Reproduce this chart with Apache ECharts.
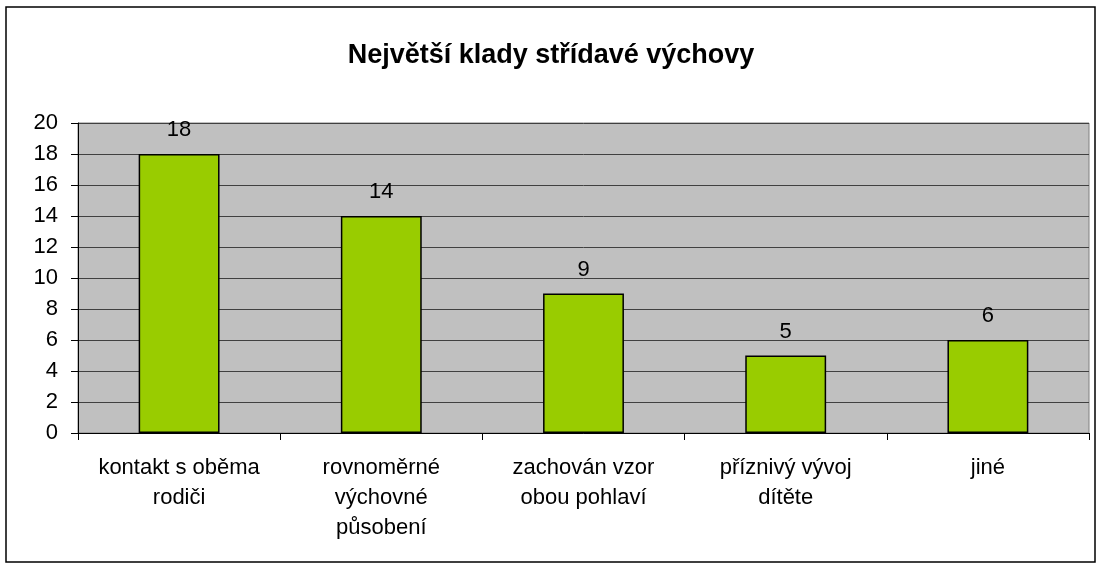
<!DOCTYPE html>
<html>
<head>
<meta charset="utf-8">
<script src="https://cdn.jsdelivr.net/npm/echarts@6/dist/echarts.min.js"></script>
<style>
  html, body { margin: 0; padding: 0; background: #fff; }
  #chart { width: 1102px; height: 569px; }
</style>
</head>
<body>
<div id="chart"></div>
<script>
const categories = [
  'kontakt s oběma\nrodiči',
  'rovnoměrné\nvýchovné\npůsobení',
  'zachován vzor\nobou pohlaví',
  'příznivý vývoj\ndítěte',
  'jiné'
]
const values = [18, 14, 9, 5, 6]
const yTicks = { min: 0, max: 20, interval: 2 }

const font = '"Liberation Sans", Arial, sans-serif'
const chart = echarts.init(document.getElementById('chart'))
chart.setOption({
  animation: false,
  title: {
    text: 'Největší klady střídavé výchovy',
    left: 'center',
    top: 37,
    textStyle: { fontFamily: font, fontSize: 27, fontWeight: 'bold', color: '#000' }
  },
  graphic: [{
    type: 'rect',
    shape: { x: 6, y: 7, width: 1089, height: 555 },
    style: { fill: 'none', stroke: '#000', lineWidth: 1.5 },
    silent: true
  }],
  grid: {
    left: 78,
    right: 13,
    top: 123,
    bottom: 136,
    show: true,
    backgroundColor: '#C0C0C0',
    borderColor: '#808080',
    borderWidth: 1
  },
  xAxis: {
    type: 'category',
    data: categories,
    axisLine: { lineStyle: { color: '#000', width: 1 } },
    axisTick: { show: true, length: 7, lineStyle: { color: '#000' } },
    axisLabel: {
      color: '#000',
      fontFamily: font,
      fontSize: 22,
      lineHeight: 30,
      margin: 20,
      interval: 0
    }
  },
  yAxis: {
    type: 'value',
    min: yTicks.min,
    max: yTicks.max,
    interval: yTicks.interval,
    axisLine: { show: true, lineStyle: { color: '#000' } },
    axisTick: { show: true, length: 7, lineStyle: { color: '#000' } },
    axisLabel: { color: '#000', fontFamily: font, fontSize: 22, margin: 20 },
    splitLine: { lineStyle: { color: '#404040', width: 1 } }
  },
  series: [{
    type: 'bar',
    data: values,
    barWidth: '40%',
    itemStyle: { color: '#99CC00', borderColor: '#000', borderWidth: 1.5 },
    label: {
      show: true,
      position: 'top',
      distance: 13,
      color: '#000',
      fontFamily: font,
      fontSize: 22
    }
  }]
})
</script>
</body>
</html>
